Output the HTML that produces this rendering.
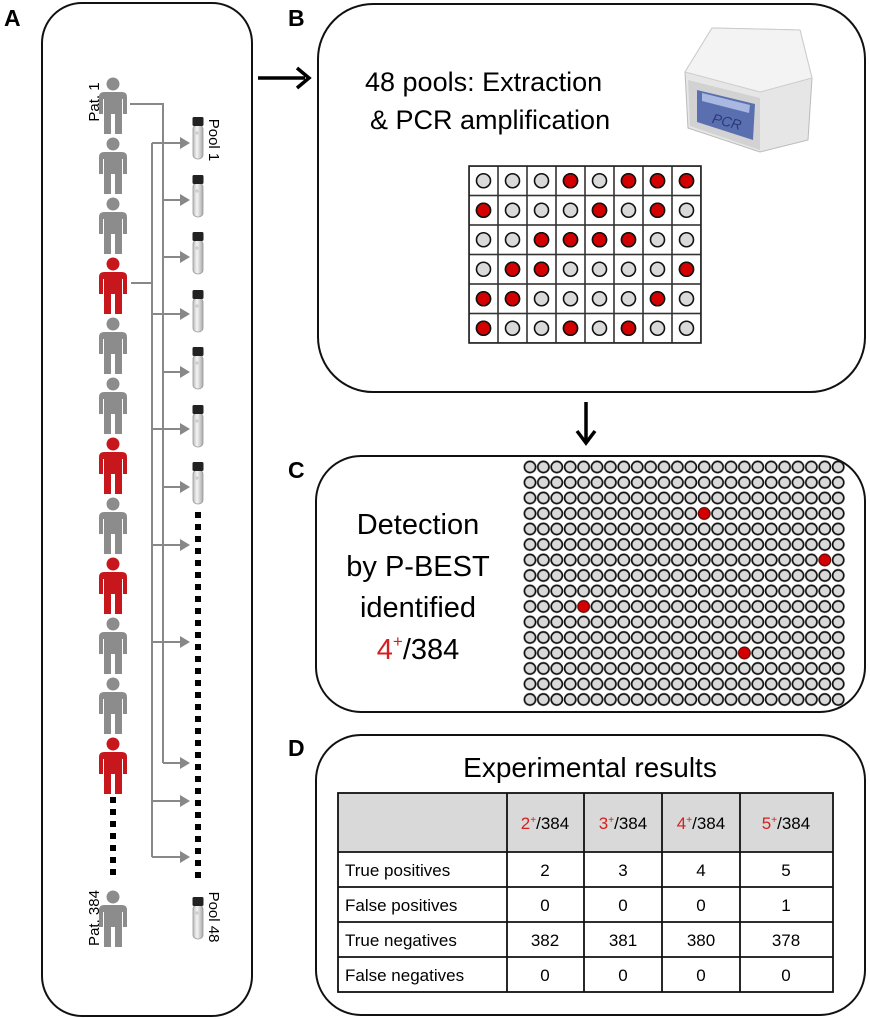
<!DOCTYPE html>
<html><head><meta charset="utf-8"><style>
html,body{margin:0;padding:0;background:#fff;}
svg{display:block;font-family:"Liberation Sans",sans-serif;}
</style></head><body>
<svg width="870" height="1019" viewBox="0 0 870 1019" xmlns="http://www.w3.org/2000/svg">
<defs>
<path id="man" d="M-9,15 h18 q5,0 5,5 v17 h-4 v-15 h-1 v35 h-7 v-20 h-4 v20 h-7 v-35 h-1 v15 h-4 v-17 q0,-5 5,-5 z M0,0.5 a6.5,6.5 0 1,0 0.01,0 z"/>
<linearGradient id="tg" x1="0" x2="1"><stop offset="0" stop-color="#bbb"/><stop offset="0.4" stop-color="#f4f4f4"/><stop offset="1" stop-color="#aaa"/></linearGradient>
<g id="tube"><rect x="-5" y="8" width="10" height="34" rx="5" ry="4" fill="url(#tg)" stroke="#999" stroke-width="0.8"/><rect x="-5.5" y="0" width="11" height="9" rx="1.5" fill="#222"/><circle cx="-1" cy="16" r="1.6" fill="#ccc"/></g>
<pattern id="pc" patternUnits="userSpaceOnUse" x="523.3" y="459.25" width="13.4" height="15.5"><circle cx="6.7" cy="7.75" r="5.6" fill="#d9d9d9" stroke="#111" stroke-width="1.7"/></pattern>
<pattern id="pb" patternUnits="userSpaceOnUse" x="469" y="166" width="29" height="29.5"><rect x="0" y="0" width="29" height="29.5" fill="#fff" stroke="#333" stroke-width="1.6"/><circle cx="14.5" cy="14.75" r="7" fill="#d9d9d9" stroke="#111" stroke-width="1.6"/></pattern>
</defs>

<text x="4" y="26" font-size="23" font-weight="bold">A</text>
<text x="288" y="26" font-size="23" font-weight="bold">B</text>
<text x="288" y="478" font-size="23" font-weight="bold">C</text>
<text x="288" y="756" font-size="23" font-weight="bold">D</text>

<rect x="42" y="3" width="210" height="1013" rx="40" fill="none" stroke="#111" stroke-width="2"/>

<g stroke="#888" stroke-width="2" fill="none">
<path d="M130,104 H163 V763"/>
<path d="M131,283 H152"/>
<path d="M152,143 V857"/>
<path d="M152,143 H186 M163,200 H186 M163,257 H186 M152,314 H186 M163,372 H186 M152,429 H186 M163,487 H186 M152,545 H186 M152,642 H186 M163,763 H186 M152,801 H186 M152,857 H186"/>
</g>
<g fill="#888">
<path d="M180,137 l10,6 l-10,6z"/><path d="M180,194 l10,6 l-10,6z"/><path d="M180,251 l10,6 l-10,6z"/><path d="M180,308 l10,6 l-10,6z"/><path d="M180,366 l10,6 l-10,6z"/><path d="M180,423 l10,6 l-10,6z"/><path d="M180,481 l10,6 l-10,6z"/><path d="M180,539 l10,6 l-10,6z"/><path d="M180,636 l10,6 l-10,6z"/><path d="M180,757 l10,6 l-10,6z"/><path d="M180,795 l10,6 l-10,6z"/><path d="M180,851 l10,6 l-10,6z"/>
</g>

<g fill="#8c8c8c">
<use href="#man" x="113" y="77"/><use href="#man" x="113" y="137"/><use href="#man" x="113" y="197"/>
<use href="#man" x="113" y="317"/><use href="#man" x="113" y="377"/><use href="#man" x="113" y="497"/>
<use href="#man" x="113" y="617"/><use href="#man" x="113" y="677"/><use href="#man" x="113" y="890"/>
</g>
<g fill="#c8161d">
<use href="#man" x="113" y="257"/><use href="#man" x="113" y="437"/><use href="#man" x="113" y="557"/><use href="#man" x="113" y="737"/>
</g>
<line x1="113" y1="797" x2="113" y2="880" stroke="#000" stroke-width="6" stroke-dasharray="6 6"/>

<use href="#tube" x="198" y="117"/><use href="#tube" x="198" y="175"/><use href="#tube" x="198" y="232"/><use href="#tube" x="198" y="290"/><use href="#tube" x="198" y="347"/><use href="#tube" x="198" y="405"/><use href="#tube" x="198" y="462"/><use href="#tube" x="198" y="897"/>
<line x1="198" y1="512" x2="198" y2="884" stroke="#000" stroke-width="6" stroke-dasharray="6 6"/>

<text transform="translate(99,102) rotate(-90)" font-size="15" text-anchor="middle">Pat. 1</text>
<text transform="translate(209,140) rotate(90)" font-size="15" text-anchor="middle">Pool 1</text>
<text transform="translate(99,918) rotate(-90)" font-size="15" text-anchor="middle">Pat. 384</text>
<text transform="translate(209,917) rotate(90)" font-size="15" text-anchor="middle">Pool 48</text>

<line x1="258" y1="78" x2="305" y2="78" stroke="#000" stroke-width="3.5"/>
<path d="M297,68 L309,78 L297,88" fill="none" stroke="#000" stroke-width="3.5"/>

<rect x="318" y="4" width="547" height="388" rx="55" fill="none" stroke="#111" stroke-width="2"/>
<text x="365" y="91" font-size="27">48 pools: Extraction</text>
<text x="370" y="129" font-size="27">&amp; PCR amplification</text>
<g>
<path d="M685,72 L712,28 L800,30 L812,78 L808,140 L760,152 L688,128 Z" fill="#e6e6e6" stroke="#bbb"/>
<path d="M685,72 L712,28 L800,30 L812,78 L760,92 Z" fill="#f3f3f3" stroke="#ccc"/>
<path d="M688,80 L760,98 L760,150 L690,126 Z" fill="#d2d2d2"/>
<path d="M697,90 L755,104 L753,140 L697,122 Z" fill="#5a6fb0"/>
<path d="M702,93 L750,105 L749,113 L702,101 Z" fill="#a9b8e0"/>
<text x="712" y="126" font-size="14" font-style="italic" fill="#2a3a78" transform="rotate(14 725 122)">PCR</text>
</g>
<rect x="469" y="166" width="232" height="177" fill="url(#pb)"/>
<rect x="469" y="166" width="232" height="177" fill="none" stroke="#222" stroke-width="1.6"/>
<g fill="#d40000" stroke="#111" stroke-width="1.6">
<circle cx="570.5" cy="180.75" r="7"/><circle cx="628.5" cy="180.75" r="7"/><circle cx="657.5" cy="180.75" r="7"/><circle cx="686.5" cy="180.75" r="7"/>
<circle cx="483.5" cy="210.25" r="7"/><circle cx="599.5" cy="210.25" r="7"/><circle cx="657.5" cy="210.25" r="7"/>
<circle cx="541.5" cy="239.75" r="7"/><circle cx="570.5" cy="239.75" r="7"/><circle cx="599.5" cy="239.75" r="7"/><circle cx="628.5" cy="239.75" r="7"/>
<circle cx="512.5" cy="269.25" r="7"/><circle cx="541.5" cy="269.25" r="7"/><circle cx="686.5" cy="269.25" r="7"/>
<circle cx="483.5" cy="298.75" r="7"/><circle cx="512.5" cy="298.75" r="7"/><circle cx="657.5" cy="298.75" r="7"/>
<circle cx="483.5" cy="328.25" r="7"/><circle cx="570.5" cy="328.25" r="7"/><circle cx="628.5" cy="328.25" r="7"/>
</g>

<line x1="586" y1="402" x2="586" y2="440" stroke="#000" stroke-width="3.5"/>
<path d="M577,431 L586,443 L595,431" fill="none" stroke="#000" stroke-width="3.5"/>

<rect x="316" y="456" width="549" height="256" rx="45" fill="none" stroke="#111" stroke-width="2"/>
<rect x="523.3" y="459.25" width="321.6" height="248" fill="url(#pc)"/>
<g fill="#d40000" stroke="#8a0000" stroke-width="1">
<circle cx="704.2" cy="513.5" r="5.6"/><circle cx="824.8" cy="560" r="5.6"/><circle cx="583.6" cy="606.5" r="5.6"/><circle cx="744.4" cy="653" r="5.6"/>
</g>
<g font-size="29" text-anchor="middle">
<text x="418" y="534">Detection</text>
<text x="418" y="576">by P-BEST</text>
<text x="418" y="617">identified</text>
<text x="418" y="659"><tspan fill="#d42020">4</tspan><tspan fill="#d42020" font-size="17" dy="-12">+</tspan><tspan dy="12">/384</tspan></text>
</g>

<rect x="316" y="735" width="549" height="280" rx="45" fill="none" stroke="#111" stroke-width="2"/>
<text x="590" y="777" font-size="28" text-anchor="middle">Experimental results</text>
<rect x="338" y="793" width="495" height="59" fill="#d9d9d9"/>
<g stroke="#111" stroke-width="1.8" fill="none">
<rect x="338" y="793" width="495" height="199"/>
<line x1="338" y1="852" x2="833" y2="852"/><line x1="338" y1="887" x2="833" y2="887"/><line x1="338" y1="922" x2="833" y2="922"/><line x1="338" y1="957" x2="833" y2="957"/>
<line x1="507" y1="793" x2="507" y2="992"/><line x1="584" y1="793" x2="584" y2="992"/><line x1="662" y1="793" x2="662" y2="992"/><line x1="740" y1="793" x2="740" y2="992"/>
</g>
<g font-size="17" text-anchor="middle">
<text x="545" y="829"><tspan fill="#d42020">2</tspan><tspan fill="#d42020" font-size="10" dy="-6">+</tspan><tspan dy="6">/384</tspan></text>
<text x="623" y="829"><tspan fill="#d42020">3</tspan><tspan fill="#d42020" font-size="10" dy="-6">+</tspan><tspan dy="6">/384</tspan></text>
<text x="701" y="829"><tspan fill="#d42020">4</tspan><tspan fill="#d42020" font-size="10" dy="-6">+</tspan><tspan dy="6">/384</tspan></text>
<text x="786" y="829"><tspan fill="#d42020">5</tspan><tspan fill="#d42020" font-size="10" dy="-6">+</tspan><tspan dy="6">/384</tspan></text>
<text x="545" y="876">2</text><text x="623" y="876">3</text><text x="701" y="876">4</text><text x="786" y="876">5</text>
<text x="545" y="911">0</text><text x="623" y="911">0</text><text x="701" y="911">0</text><text x="786" y="911">1</text>
<text x="545" y="946">382</text><text x="623" y="946">381</text><text x="701" y="946">380</text><text x="786" y="946">378</text>
<text x="545" y="981">0</text><text x="623" y="981">0</text><text x="701" y="981">0</text><text x="786" y="981">0</text>
</g>
<g font-size="17">
<text x="345" y="876">True positives</text>
<text x="345" y="911">False positives</text>
<text x="345" y="946">True negatives</text>
<text x="345" y="981">False negatives</text>
</g>
</svg>
</body></html>
